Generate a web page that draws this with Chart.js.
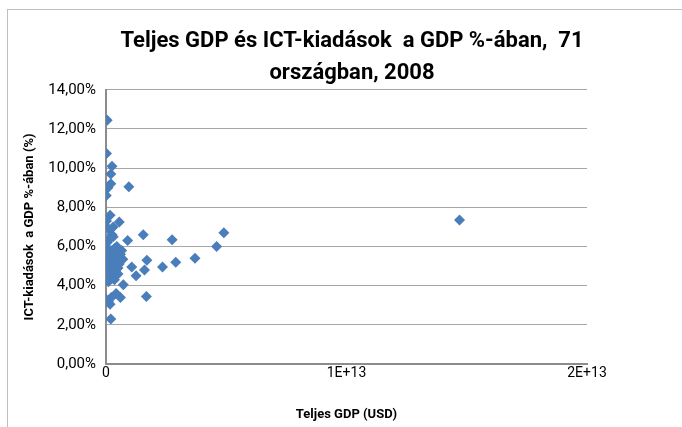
<!DOCTYPE html>
<html>
<head>
<meta charset="utf-8">
<script src="https://cdn.jsdelivr.net/npm/chart.js@4"></script>
<style>
  body { margin: 0; background: #fff; }
  #wrap { width: 682px; height: 427px; position: relative; }
</style>
</head>
<body>
<div id="wrap"><canvas id="scatter"></canvas></div>
<script>
// GDP (USD) and ICT spending (% of GDP), 71 countries
const gdp = [
  0.05e12, 0.02e12, 0.25e12, 0.2e12, 0.2e12, 0.08e12, 0.01e12, 0.95e12, 0.17e12, 0.55e12,
  0.02e12, 0.9e12, 1.55e12, 2.75e12, 4.9e12, 4.6e12, 3.7e12, 2.9e12, 2.35e12, 1.7e12,
  1.6e12, 1.07e12, 1.25e12, 0.72e12, 1.68e12, 0.2e12, 14.7e12, 0.22e12, 0.42e12, 0.17e12,
  0.0e12, 0.1e12, 0.6e12,
  0.05e12, 0.15e12, 0.3e12, 0.05e12, 0.2e12, 0.35e12, 0.5e12, 0.1e12, 0.25e12, 0.4e12,
  0.6e12, 0.02e12, 0.15e12, 0.3e12, 0.45e12, 0.05e12, 0.2e12, 0.35e12, 0.55e12, 0.1e12,
  0.25e12, 0.4e12, 0.02e12, 0.15e12, 0.3e12, 0.5e12, 0.08e12, 0.22e12, 0.35e12, 0.1e12,
  0.6e12, 0.7e12, 0.65e12, 0.45e12, 0.3e12, 0.1e12, 0.25e12, 0.5e12
];
const ictShare = [
  12.45, 10.75, 10.1, 9.7, 9.2, 9.0, 8.6, 9.05, 7.6, 7.25,
  7.3, 6.3, 6.6, 6.35, 6.7, 6.0, 5.4, 5.2, 4.95, 5.3,
  4.8, 4.95, 4.5, 4.05, 3.45, 2.3, 7.35, 3.4, 3.6, 3.05,
  3.3, 3.2, 3.4,
  6.2, 6.4, 6.5, 5.9, 5.8, 5.9, 5.7, 5.6, 5.55, 5.5,
  5.4, 5.4, 5.3, 5.25, 5.2, 5.1, 5.0, 5.05, 5.1, 4.85,
  4.8, 4.75, 4.7, 4.6, 4.55, 4.6, 4.4, 4.35, 4.3, 4.2,
  5.6, 5.35, 5.8, 6.0, 7.0, 6.9, 6.6, 4.9
];
const xTicks = ['0', '1E+13', '2E+13'];

const chartTitle = ['Teljes GDP és ICT-kiadások  a GDP %-ában,  71', 'országban, 2008'];
const xTitle = 'Teljes GDP (USD)';
const yTitle = 'ICT-kiadások  a GDP %-ában (%)';

const font = "'Roboto', sans-serif";

const frame = {
  id: 'frame',
  beforeDraw(chart) {
    const c = chart.ctx;
    c.save();
    c.strokeStyle = '#bfbfbf';
    c.lineWidth = 1;
    c.strokeRect(7.5, 9.5, 700, 440);
    c.restore();
  }
};

const points = gdp.map((g, i) => ({ x: g, y: ictShare[i] }));

const ctx = document.getElementById('scatter');
new Chart(ctx, {
  type: 'scatter',
  data: {
    datasets: [{
      data: points,
      pointStyle: 'rectRot',
      pointRadius: 5.5,
      backgroundColor: '#4a7ebb',
      borderColor: '#4a7ebb',
      borderWidth: 0,
    }],
  },
  options: {
    responsive: true,
    maintainAspectRatio: false,
    animation: false,
    layout: { padding: { left: 22, right: 0, top: 0, bottom: 0 } },
    plugins: {
      legend: { display: false },
      tooltip: { enabled: false },
      title: {
        display: true,
        text: chartTitle,
        color: '#000',
        font: { family: font, size: 22, weight: 'bold', lineHeight: 1.45 },
        padding: { top: 26, bottom: 0 },
      },
    },
    scales: {
      x: {
        type: 'linear',
        min: 0,
        max: 2e13,
        afterBuildTicks(scale) {
          scale.ticks = [0, 1e13, 2e13].map(v => ({ value: v }));
        },
        afterFit(scale) { scale.height = 63; },
        grid: { display: false, drawTicks: false },
        border: { display: true, color: '#8c8c8c', width: 2 },
        ticks: {
          color: '#000',
          padding: 1,
          font: { family: font, size: 14 },
          callback: function(value, i) { return xTicks[i]; },
        },
        title: {
          display: true,
          text: xTitle,
          color: '#000',
          font: { family: font, size: 13, weight: 'bold' },
          padding: { top: 14 },
        },
      },
      y: {
        min: 0,
        max: 14,
        afterFit(scale) { scale.width = 84; },
        grid: { color: '#a6a6a6', lineWidth: 1, drawTicks: false },
        border: { display: true, color: '#8c8c8c', width: 2 },
        ticks: {
          stepSize: 2,
          color: '#000',
          padding: 10,
          font: { family: font, size: 15 },
          callback: function(value) {
            return value.toFixed(2).replace('.', ',') + '%';
          },
        },
        title: {
          display: true,
          text: yTitle,
          color: '#000',
          font: { family: font, size: 13, weight: 'bold' },
          padding: { top: 0, bottom: 0 },
        },
      },
      // empty strip on the right, keeps the plot narrower than the frame
      yRight: {
        position: 'right',
        afterFit(scale) { scale.width = 95; },
        grid: { display: false, drawTicks: false },
        border: { display: false },
        ticks: { display: false },
      },
    },
  },
  plugins: [frame],
});
</script>
</body>
</html>
